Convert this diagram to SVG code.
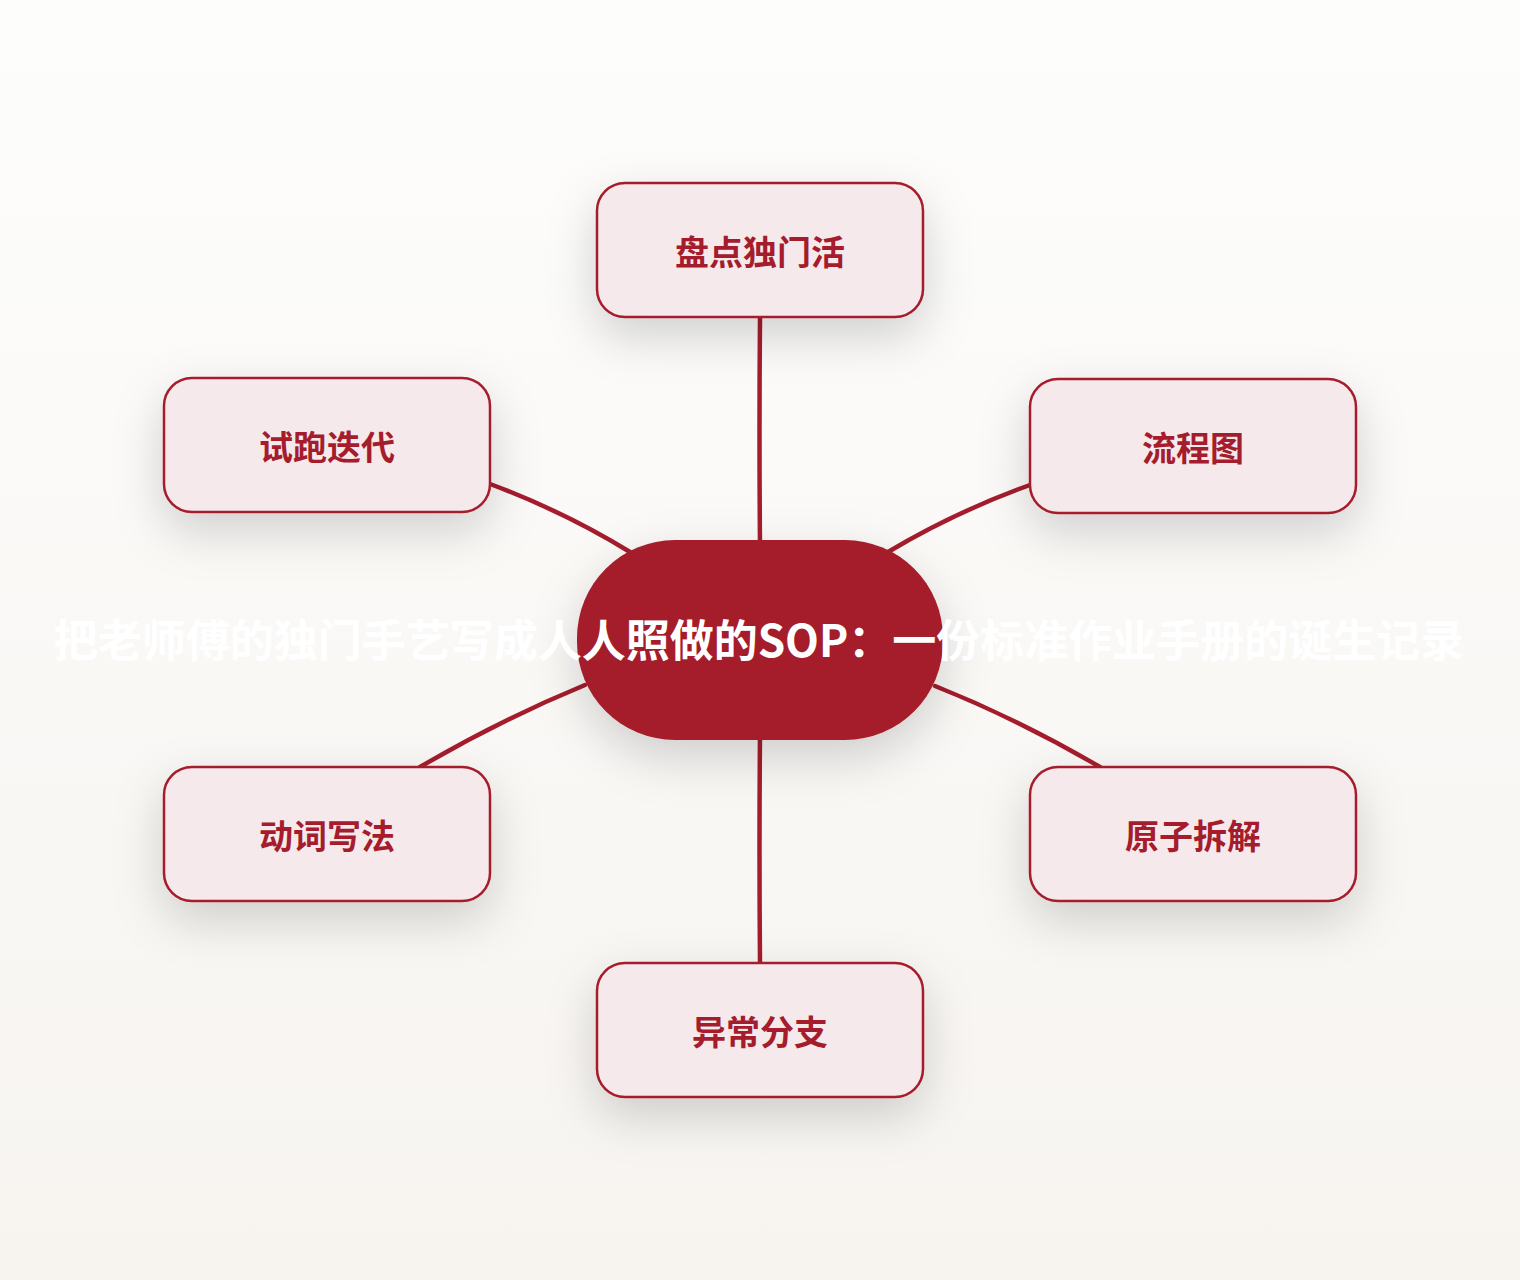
<svg xmlns="http://www.w3.org/2000/svg" width="1520" height="1280" viewBox="0 0 1520 1280">
<defs>
<linearGradient id="bg" x1="0" y1="0" x2="0" y2="1">
<stop offset="0" stop-color="#fdfdfc"/>
<stop offset="1" stop-color="#f7f4f0"/>
</linearGradient>
<filter id="sh" x="-40%" y="-40%" width="180%" height="200%">
<feDropShadow dx="0" dy="18" stdDeviation="24" flood-color="#000" flood-opacity="0.17"/>
</filter>
<style>
.leaf rect{fill:#f5e9ec;stroke:#a51c2c;stroke-width:2.5;}
.leaf text{fill:#a51c2c;font-family:"Noto Sans CJK SC","Noto Sans",sans-serif;font-weight:700;font-size:34px;text-anchor:middle;}
.conn path{fill:none;stroke:#a51c2c;stroke-width:4.5;stroke-linecap:round;}
.hub text{fill:#ffffff;font-family:"Noto Sans CJK SC","Noto Sans",sans-serif;font-weight:700;font-size:44px;text-anchor:middle;}
</style>
</defs>
<rect width="1520" height="1280" fill="url(#bg)"/>
<g id="connectors" class="conn">
<path d="M760,318 Q759,430 760,545"/>
<path d="M1030,485 Q955,512 888,552"/>
<path d="M490,484 Q565,512 630,552"/>
<path d="M585,685 Q500,720 420,767"/>
<path d="M935,686 Q1020,720 1100,767"/>
<path d="M760,735 Q759,850 760,963"/>
</g>
<g id="hub" class="hub">
<rect x="577" y="540" width="366" height="200" rx="98" fill="#a51c2c" filter="url(#sh)"/>
<text x="759" y="657">把老师傅的独门手艺写成人人照做的SOP：一份标准作业手册的诞生记录</text>
</g>
<g id="n-top" class="leaf">
<rect x="597" y="183" width="326" height="134" rx="28" filter="url(#sh)"/>
<text x="760" y="265">盘点独门活</text>
</g>
<g id="n-lt" class="leaf">
<rect x="164" y="378" width="326" height="134" rx="28" filter="url(#sh)"/>
<text x="327" y="460">试跑迭代</text>
</g>
<g id="n-rt" class="leaf">
<rect x="1030" y="379" width="326" height="134" rx="28" filter="url(#sh)"/>
<text x="1193" y="461">流程图</text>
</g>
<g id="n-lb" class="leaf">
<rect x="164" y="767" width="326" height="134" rx="28" filter="url(#sh)"/>
<text x="327" y="849">动词写法</text>
</g>
<g id="n-rb" class="leaf">
<rect x="1030" y="767" width="326" height="134" rx="28" filter="url(#sh)"/>
<text x="1193" y="849">原子拆解</text>
</g>
<g id="n-bottom" class="leaf">
<rect x="597" y="963" width="326" height="134" rx="28" filter="url(#sh)"/>
<text x="760" y="1045">异常分支</text>
</g>
</svg>
